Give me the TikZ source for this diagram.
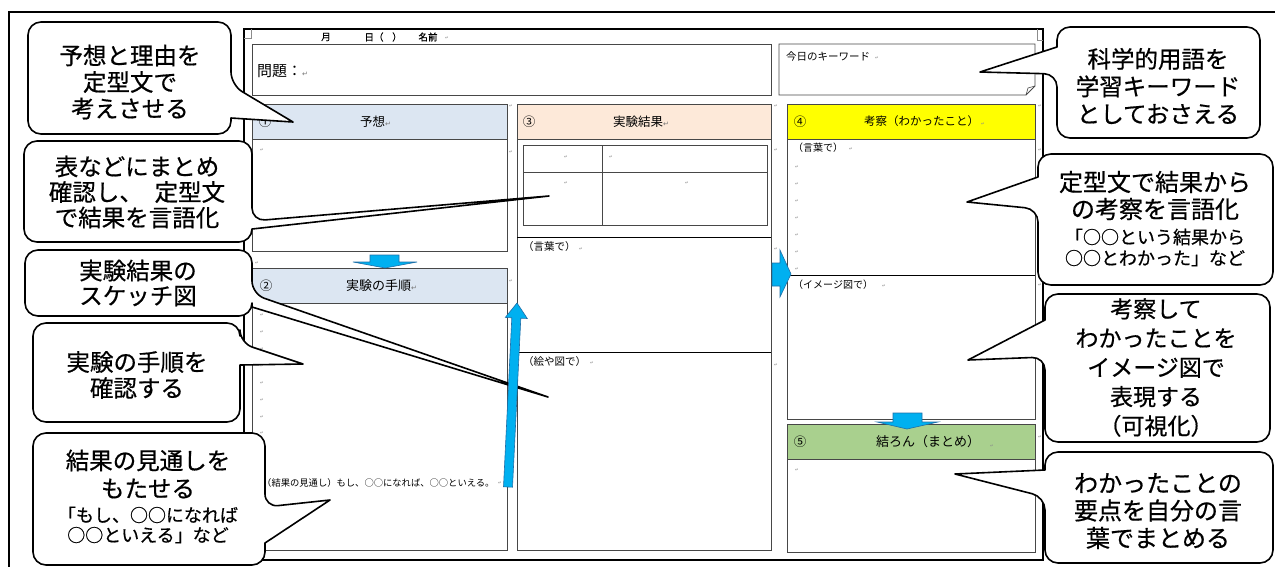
\documentclass[tikz,border=0pt]{standalone}
\usepackage{fontspec}
\setmainfont{Noto Sans CJK JP}
\newfontfamily\cfont[FakeBold=0.6]{Noto Sans CJK JP}
\newfontfamily\djv{DejaVu Sans}
\definecolor{hdrblue}{HTML}{DCE6F2}
\definecolor{hdrpeach}{HTML}{FDE9D9}
\definecolor{hdryellow}{HTML}{FFFF00}
\definecolor{hdrgreen}{HTML}{A9D08E}
\definecolor{arrowblue}{HTML}{00B0F0}
\definecolor{arrowedge}{HTML}{1F6FA8}
\newcommand\retmark{{\djv\fontsize{7}{7}\selectfont\color{black!55}↵}}
% callout with pointer on the right edge: x1 y1 x2 y2 ya yb (tip)
\newcommand\calloutR[7]{\draw[callout] (#1,#2) -- (#3,#2) -- (#3,#5) [sharp corners] -- #7 -- (#3,#6) [rounded corners=13pt] -- (#3,#4) -- (#1,#4) -- cycle;}
% callout with pointer on the left edge: x1 y1 x2 y2 ya yb (tip)
\newcommand\calloutL[7]{\draw[callout] (#3,#4) -- (#1,#4) -- (#1,#6) [sharp corners] -- #7 -- (#1,#5) [rounded corners=13pt] -- (#1,#2) -- (#3,#2) -- cycle;}
\begin{document}
\begin{tikzpicture}[x=1pt,y=-1pt,
  callout/.style={draw=black,line width=1.6pt,fill=white,rounded corners=13pt,line join=round},
  ctext/.style={align=center,inner sep=0pt},
  cell/.style={draw=black!72,line width=0.9pt},
  barrow/.style={fill=arrowblue,draw=arrowedge,line width=0.6pt,line join=miter},
  wtxt/.style={inner sep=0pt,anchor=west,font=\fontsize{10.5}{12}\selectfont},
  htxt/.style={inner sep=0pt,font=\fontsize{12.5}{14}\selectfont},
  pm/.style={inner sep=0pt,font=\djv\fontsize{4.5}{5}\selectfont,text=black!45}]
\useasboundingbox (0,0) rectangle (1275,566);
\fill[white] (0,0) rectangle (1275,566);
% outer frame
\draw[line width=2.8pt] (9,575) -- (9,12) -- (1285,12);
% worksheet frame
\draw[line width=1.4pt] (244,29) rectangle (1043,560);
\draw[black!45,line width=0.5pt] (251,29) -- (251,38) -- (244,38);
\draw[black!45,line width=0.5pt] (1037,29) -- (1037,40) -- (1043,40);
% header line
\node[inner sep=0pt,font=\cfont\fontsize{9.5}{11}\selectfont] (dm) at (326,37) {月};
\node[inner sep=0pt,font=\cfont\fontsize{9.5}{11}\selectfont] (dd) at (374,37) {日（};
\node[inner sep=0pt,font=\cfont\fontsize{9.5}{11}\selectfont] (dp) at (397,37) {）};
\node[inner sep=0pt,font=\cfont\fontsize{9.5}{11}\selectfont] (dn) at (428,37) {名前};
% problem box and keyword box
\draw[cell] (252,44) rectangle (771,95);
\node[inner sep=0pt,anchor=west,font=\fontsize{15}{17}\selectfont] (mondai) at (257,71) {問題：\retmark};
\draw[cell] (779,44) -- (1035,44) -- (1035,86) -- (1026,95) -- (779,95) -- cycle;
\draw[cell,line width=0.6pt] (1035,86) -- (1028,88) -- (1026,95);
\node[wtxt] (kw) at (786,57) {今日のキーワード};
% column 1
\draw[cell,fill=hdrblue] (252,104) rectangle (507,139);
\draw[cell] (252,139) rectangle (507,251);
\node[htxt] (n1) at (265,121.5) {①};
\node[htxt,anchor=west] (t1) at (360,121.5) {予想\retmark};
\draw[cell,fill=hdrblue] (252,268) rectangle (507,303);
\draw[cell] (252,303) rectangle (507,550);
\node[htxt] (n2) at (266,285.5) {②};
\node[htxt,anchor=west,font=\fontsize{13}{14}\selectfont] (t2) at (346,285.5) {実験の手順\retmark};
\node[inner sep=0pt,anchor=west,font=\fontsize{9.3}{11}\selectfont] (mitoshi) at (262,483) {（結果の見通し）もし、○○になれば、○○といえる。};
% column 3
\draw[cell,fill=hdrpeach] (517,104) rectangle (771,139);
\draw[cell] (517,139) rectangle (771,550);
\node[htxt] (n3) at (529,121.5) {③};
\node[htxt,anchor=west] (t3) at (613,121.5) {実験結果\retmark};
\draw[cell] (523,145) rectangle (767,225);
\draw[cell] (523,172) -- (767,172);
\draw[cell] (602,145) -- (602,225);
\draw[black,line width=0.9pt] (517,237) -- (771,237);
\draw[black,line width=0.9pt] (517,352) -- (771,352);
\node[wtxt] (kotoba3) at (523,247) {（言葉で）};
\node[wtxt] (ezu3) at (523,362) {（絵や図で）};
% column 4
\draw[cell,fill=hdryellow] (787,104) rectangle (1035,139);
\draw[cell] (787,139) rectangle (1035,419);
\node[htxt] (n4) at (800,121.5) {④};
\node[htxt,anchor=west,font=\fontsize{11.5}{13}\selectfont] (t4) at (864,121.5) {考察（わかったこと）};
\draw[black,line width=0.9pt] (787,275) -- (1035,275);
\node[wtxt,font=\fontsize{10}{12}\selectfont] (kotoba4) at (793,148) {（言葉で）};
\node[wtxt,font=\fontsize{10}{12}\selectfont] (image4) at (793,285) {（イメージ図で）};
\draw[cell,fill=hdrgreen] (787,424) rectangle (1035,459);
\draw[cell] (787,459) rectangle (1035,552);
\node[htxt] (n5) at (800,441.5) {⑤};
\node[htxt,anchor=west,font=\fontsize{13}{14}\selectfont] (t5) at (876,441.5) {結ろん（まとめ）};
% small paragraph marks
\foreach \p [count=\i] in {(511,106),(511,152),(511,281),(776,106),(776,150),(776,249),(776,365),
  (1040,106),(1040,150),(1040,285),(1040,437),(262,150),(257,263),
  (262,315),(262,332),(262,349),(262,366),(262,383),(262,400),(262,417),(262,433),
  (566,157),(611,157),(566,183),(687,183),(581,249),(592,363),
  (797,167),(797,184),(797,201),(797,218),(797,235),(797,252),(797,269),
  (851,149),(884,286),(797,470),(983,124),(992,446),(877,58),(447,38),(500,483)}
  \node[pm] (pm\i) at \p {↵};
% callouts (left)
\calloutR{28}{22}{231}{134}{85}{118}{(293,122)}
\node[ctext,font=\cfont\fontsize{23.5}{26.5}\selectfont] (c1) at (130,82) {予想と理由を\\定型文で\\考えさせる};
\calloutR{24}{141}{252}{242}{221}{229}{(549,196)}
\node[ctext,font=\cfont\fontsize{23.5}{25.5}\selectfont] (c2) at (137,192) {表などにまとめ\\確認し、\hspace{0.5em}定型文\\で結果を言語化};
\calloutR{25}{250}{252}{316}{294}{307}{(548,397)}
\node[ctext,font=\cfont\fontsize{23.5}{25}\selectfont] (c3) at (138,283) {実験結果の\\スケッチ図};
\calloutR{33}{323}{240}{422}{343}{365}{(303,364)}
\node[ctext,font=\cfont\fontsize{23.5}{26}\selectfont] (c4) at (137,375) {実験の手順を\\確認する};
\calloutR{33}{433}{265}{565}{507}{543}{(330,500)}
\node[ctext,font=\cfont\fontsize{23.5}{28}\selectfont] (c5a) at (148,474) {結果の見通しを\\もたせる};
\node[ctext,font=\cfont\fontsize{18}{20}\selectfont] (c5b) at (148,525) {「もし、○○になれば\\○○といえる」など};
% callouts (right)
\calloutL{1057}{27}{1260}{138}{47}{74}{(980,72)}
\node[ctext,font=\cfont\fontsize{23.5}{27.5}\selectfont] (c6) at (1158,86) {科学的用語を\\学習キーワード\\としておさえる};
\calloutL{1038}{154}{1273}{285}{177}{209}{(967,202)}
\node[ctext,font=\cfont\fontsize{24}{27}\selectfont] (c7a) at (1155,195.5) {定型文で結果から\\の考察を言語化};
\node[ctext,font=\cfont\fontsize{18}{21}\selectfont] (c7b) at (1155,247.5) {「○○という結果から\\○○とわかった」など};
\calloutL{1045}{294}{1270}{442}{320}{357}{(968,360)}
\node[ctext,font=\cfont\fontsize{23}{29.25}\selectfont] (c8) at (1156,367.5) {考察して\\わかったことを\\イメージ図で\\表現する\\（可視化）};
\calloutL{1045}{452}{1273}{563}{470}{497}{(955,474)}
\node[ctext,font=\cfont\fontsize{24}{27.5}\selectfont] (c9) at (1158,511) {わかったことの\\要点を自分の言\\葉でまとめる};
% blue arrows
\draw[barrow] (370,255) -- (399,255) -- (399,262) -- (417,262) -- (385,268) -- (353,262) -- (370,262) -- cycle;
\draw[barrow] (893,413) -- (922,413) -- (922,422) -- (938,422) -- (907,429) -- (877,422) -- (893,422) -- cycle;
\draw[barrow] (772,263) -- (780,263) -- (780,250) -- (791,274) -- (780,297) -- (780,286) -- (772,286) -- cycle;
\draw[barrow] (503.5,486.8) -- (511.8,317.8) -- (505.3,317.4) -- (517,303) -- (527.3,318.5) -- (520.8,318.2) -- (512.5,487.2) -- cycle;
\end{tikzpicture}
\end{document}
